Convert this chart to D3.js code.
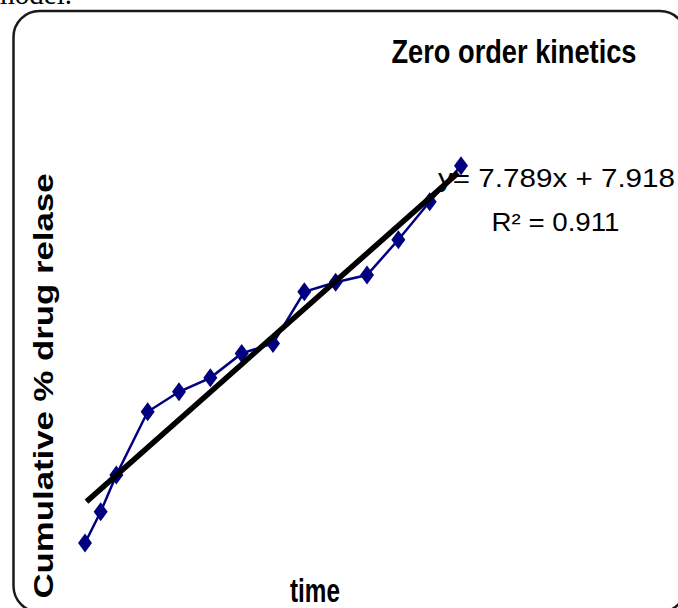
<!DOCTYPE html>
<html>
<head>
<meta charset="utf-8">
<script src="https://cdn.jsdelivr.net/npm/d3@7/dist/d3.min.js"></script>
<style>
  html, body { margin: 0; padding: 0; background: #fff; }
  svg { display: block; }
</style>
</head>
<body>
<svg id="chart" width="678" height="608"></svg>
<script>
// ---- data ----
const times   = [0, 0.5, 1, 2, 3, 4, 5, 6, 7, 8, 9, 10, 11, 12];
const release = [5.0, 12.8, 22.0, 37.8, 42.8, 46.3, 52.4, 54.9, 67.8, 70.2, 72.0, 80.8, 90.3, 99.3];
const chartTitle = "Zero order kinetics";
const xLabel = "time";
const yLabel = "Cumulative % drug relase";
const trendSlope = 7.789;
const trendIntercept = 7.918;
const rSquared = 0.911;
const captionFragment = "model.";

const svg = d3.select("#chart");

// caption fragment cut at top
svg.append("text")
  .attr("x", 72).attr("y", 3.5)
  .attr("text-anchor", "end")
  .attr("font-family", "'Liberation Serif', 'Times New Roman', serif")
  .attr("font-size", 29)
  .attr("fill", "#000")
  .text(captionFragment);

// rounded frame
svg.append("rect")
  .attr("x", 13.5).attr("y", 11)
  .attr("width", 686 - 13.5).attr("height", 612 - 11)
  .attr("rx", 26).attr("ry", 26)
  .attr("fill", "none")
  .attr("stroke", "#1a1a1a")
  .attr("stroke-width", 2.5);

// scales
const x = d3.scaleLinear().domain([0, 12]).range([85, 461]);
const y = d3.scaleLinear().domain([0, 100]).range([563, 163]);

// title
svg.append("text")
  .attr("x", 391.5).attr("y", 63)
  .attr("font-family", "'Liberation Sans Narrow', 'Arial Narrow', 'Liberation Sans', Arial, sans-serif")
  .attr("font-weight", "bold")
  .attr("font-size", 34)
  .attr("textLength", 245)
  .attr("lengthAdjust", "spacingAndGlyphs")
  .attr("fill", "#000")
  .text(chartTitle);

// axis titles
svg.append("text")
  .attr("x", 315).attr("y", 601.5)
  .attr("text-anchor", "middle")
  .attr("font-family", "'Liberation Sans Narrow', 'Arial Narrow', 'Liberation Sans', Arial, sans-serif")
  .attr("font-weight", "bold")
  .attr("font-size", 34)
  .attr("textLength", 50)
  .attr("lengthAdjust", "spacingAndGlyphs")
  .attr("fill", "#000")
  .text(xLabel);

svg.append("text")
  .attr("transform", "translate(53,386) rotate(-90)")
  .attr("text-anchor", "middle")
  .attr("font-family", "'Liberation Sans', Arial, sans-serif")
  .attr("font-weight", "bold")
  .attr("font-size", 28)
  .attr("textLength", 425)
  .attr("lengthAdjust", "spacingAndGlyphs")
  .attr("fill", "#000")
  .text(yLabel);

// equation labels
const eqFont = "'Liberation Sans', Arial, sans-serif";
svg.append("text")
  .attr("x", 438).attr("y", 187)
  .attr("font-family", eqFont)
  .attr("font-size", 25)
  .attr("textLength", 237)
  .attr("lengthAdjust", "spacingAndGlyphs")
  .attr("fill", "#000")
  .text(`y= ${trendSlope}x + ${trendIntercept}`);
svg.append("text")
  .attr("x", 491.5).attr("y", 231)
  .attr("font-family", eqFont)
  .attr("font-size", 25)
  .attr("textLength", 128)
  .attr("lengthAdjust", "spacingAndGlyphs")
  .attr("fill", "#000")
  .text(`R\u00B2 = ${rSquared}`);

// data series
const pts = times.map((t, i) => ({ t, v: release[i] }));
const navy = "#000080";

svg.append("path")
  .datum(pts)
  .attr("fill", "none")
  .attr("stroke", navy)
  .attr("stroke-width", 2.5)
  .attr("d", d3.line().x(d => x(d.t)).y(d => y(d.v)));

// least squares trend line computed from data
const mx = d3.mean(times), my = d3.mean(release);
const sxy = d3.sum(pts, d => (d.t - mx) * (d.v - my));
const sxx = d3.sum(pts, d => (d.t - mx) * (d.t - mx));
const b = sxy / sxx, a = my - b * mx;
const ext = d3.extent(times);

svg.selectAll("path.marker")
  .data(pts)
  .join("path")
  .attr("class", "marker")
  .attr("transform", d => `translate(${x(d.t)},${y(d.v)})`)
  .attr("d", "M0,-9.5L7,0L0,9.5L-7,0Z")
  .attr("fill", navy);

const t0 = ext[0] + x.invert(x(0) + 1.5) - x.invert(x(0));
const t1 = ext[1] - (x.invert(x(0) + 3) - x.invert(x(0)));
svg.append("line")
  .attr("x1", x(t0)).attr("y1", y(a + b * t0))
  .attr("x2", x(t1)).attr("y2", y(a + b * t1))
  .attr("stroke", "#000")
  .attr("stroke-width", 5.5);
</script>
</body>
</html>
